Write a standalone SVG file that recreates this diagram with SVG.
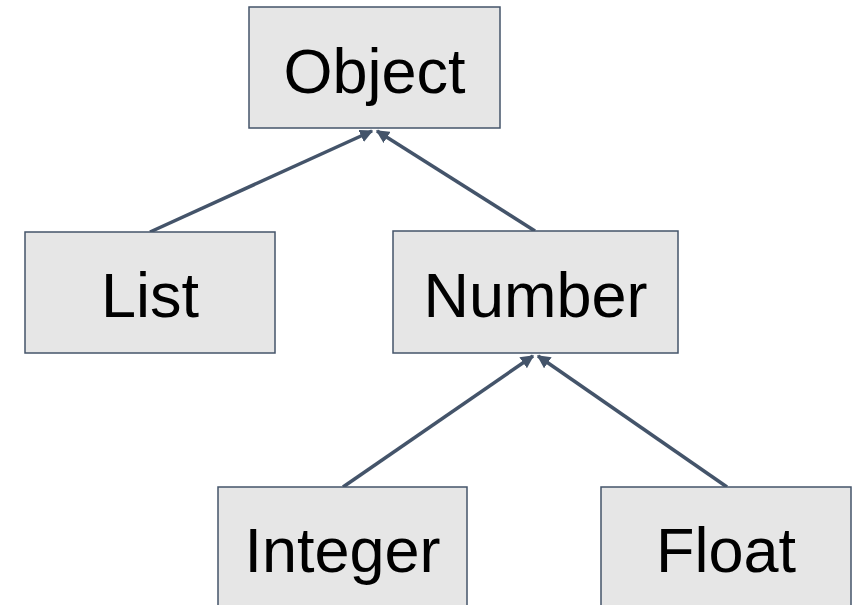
<svg xmlns="http://www.w3.org/2000/svg" width="854" height="605" viewBox="0 0 854 605">
<style>
.box{fill:#e6e6e6;stroke:#44546a;stroke-width:1.5}
.lbl{font-family:"Liberation Sans",Arial,sans-serif;font-size:63px;fill:#000;text-anchor:middle}
.edge{stroke:#44546a;stroke-width:3.5;fill:none;marker-end:url(#ah)}
</style>
<defs>
<marker id="ah" viewBox="0 0 10 10" refX="9" refY="5" markerWidth="3.8" markerHeight="3.8" markerUnits="strokeWidth" orient="auto">
<path d="M0,0 L10,5 L0,10 z" fill="#44546a"/>
</marker>
</defs>
<g id="connectors">
<line class="edge" x1="150" y1="232" x2="372" y2="131"/>
<line class="edge" x1="535" y1="231" x2="377" y2="131"/>
<line class="edge" x1="343" y1="487" x2="533" y2="356"/>
<line class="edge" x1="727" y1="487" x2="538" y2="356"/>
</g>
<g id="object">
<rect class="box" x="249" y="7" width="251" height="121"/>
<text class="lbl" x="374.5" y="93">Object</text>
</g>
<g id="list">
<rect class="box" x="25" y="232" width="250" height="121"/>
<text class="lbl" x="150" y="317">List</text>
</g>
<g id="number">
<rect class="box" x="393" y="231" width="285" height="122"/>
<text class="lbl" x="535.5" y="317">Number</text>
</g>
<g id="integer">
<rect class="box" x="218" y="487" width="249" height="122"/>
<text class="lbl" x="342.5" y="572">Integer</text>
</g>
<g id="float">
<rect class="box" x="601" y="487" width="250" height="122"/>
<text class="lbl" x="726" y="572">Float</text>
</g>
</svg>
